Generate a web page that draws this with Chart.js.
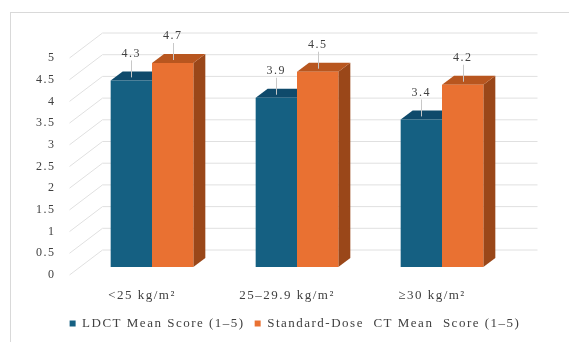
<!DOCTYPE html>
<html>
<head>
<meta charset="utf-8">
<script src="https://cdn.jsdelivr.net/npm/chart.js@4"></script>
<style>
  html, body { margin: 0; padding: 0; background: #fff; }
  #wrap { width: 569px; height: 342px; }
</style>
</head>
<body>
<div id="wrap"><canvas id="bmiChart" width="569" height="342"></canvas></div>
<script>
// BMI groups and mean image-quality scores
const categories = ['<25 kg/m\u00B2', '25\u201329.9 kg/m\u00B2', '\u226530 kg/m\u00B2'];
const ldctScores = [4.3, 3.9, 3.4];
const standardScores = [4.7, 4.5, 4.2];
const seriesNames = ['LDCT Mean Score (1\u20135)', 'Standard-Dose  CT Mean  Score (1\u20135)'];

const FONT = "'Liberation Serif', 'Times New Roman', serif";
const TEXT = '#404040';

// depth of the floor / back wall, and offset of the front plane from the bar plane
const WALL_DX = 33, WALL_DY = 25;
const FRONT_DX = -10, FRONT_DY = 8;
// depth of each bar
const BAR_DX = 12, BAR_DY = 9;

const sideColors = ['#0c3f5c', '#9a4719'];
const topColors = ['#0f4a6b', '#b8561f'];

// wide tracking on all chart text
const spacingPlugin = {
    id: 'spacing',
    beforeInit(chart) { chart.ctx.letterSpacing = '1.5px'; },
    beforeUpdate(chart) { chart.ctx.letterSpacing = '1.5px'; }
};

// back wall, left wall and outer frame
const wallPlugin = {
    id: 'wall',
    beforeDraw(chart) {
        const ctx = chart.ctx;
        const area = chart.chartArea;
        const y = chart.scales.y;
        ctx.save();
        ctx.strokeStyle = '#d9d9d9';
        ctx.lineWidth = 1;
        ctx.strokeRect(10.5, 12.5, 700, 500);
        ctx.strokeStyle = '#e0e0e0';
        const fx = area.left + FRONT_DX;
        const fxr = area.right + FRONT_DX;
        y.ticks.forEach(t => {
            const fy = y.getPixelForValue(t.value) + FRONT_DY;
            ctx.beginPath();
            ctx.moveTo(fx, fy);
            ctx.lineTo(fx + WALL_DX, fy - WALL_DY);
            ctx.lineTo(fxr + WALL_DX, fy - WALL_DY);
            ctx.stroke();
        });
        ctx.restore();
    }
};

// side and top faces of the bars, drawn under the front faces; value labels on top
const barDepthPlugin = {
    id: 'barDepth',
    beforeDatasetsDraw(chart) {
        const ctx = chart.ctx;
        ctx.save();
        chart.data.datasets.forEach((ds, di) => {
            chart.getDatasetMeta(di).data.forEach(bar => {
                const l = bar.x - bar.width / 2;
                const r = bar.x + bar.width / 2;
                ctx.fillStyle = sideColors[di];
                ctx.beginPath();
                ctx.moveTo(r, bar.y);
                ctx.lineTo(r + BAR_DX, bar.y - BAR_DY);
                ctx.lineTo(r + BAR_DX, bar.base - BAR_DY);
                ctx.lineTo(r, bar.base);
                ctx.closePath();
                ctx.fill();
                ctx.fillStyle = topColors[di];
                ctx.beginPath();
                ctx.moveTo(l, bar.y);
                ctx.lineTo(l + BAR_DX, bar.y - BAR_DY);
                ctx.lineTo(r + BAR_DX, bar.y - BAR_DY);
                ctx.lineTo(r, bar.y);
                ctx.closePath();
                ctx.fill();
            });
        });
        ctx.restore();
    },
    afterDatasetsDraw(chart) {
        const ctx = chart.ctx;
        ctx.save();
        ctx.font = '12px ' + FONT;
        ctx.fillStyle = TEXT;
        ctx.textAlign = 'center';
        ctx.textBaseline = 'middle';
        chart.data.datasets.forEach((ds, di) => {
            chart.getDatasetMeta(di).data.forEach((bar, i) => {
                const ly = bar.y - 27;
                ctx.strokeStyle = '#c8c8c8';
                ctx.lineWidth = 1;
                ctx.beginPath();
                ctx.moveTo(Math.round(bar.x) + 0.5, ly + 7);
                ctx.lineTo(Math.round(bar.x) + 0.5, bar.y - 3);
                ctx.stroke();
                ctx.fillText(ds.data[i].toFixed(1), bar.x, ly);
            });
        });
        ctx.restore();
    }
};

new Chart(document.getElementById('bmiChart'), {
    type: 'bar',
    data: {
        labels: categories,
        datasets: [
            { label: seriesNames[0], data: ldctScores, backgroundColor: '#156082' },
            { label: seriesNames[1], data: standardScores, backgroundColor: '#e97132' }
        ]
    },
    options: {
        responsive: false,
        animation: false,
        layout: { padding: { left: 21, right: 0, top: 50, bottom: 2 } },
        datasets: {
            bar: { categoryPercentage: 0.57, barPercentage: 1.0 }
        },
        scales: {
            x: {
                grid: { display: false, drawTicks: false },
                border: { display: false },
                ticks: {
                    color: TEXT,
                    font: { family: FONT, size: 13 },
                    padding: 21,
                    labelOffset: -10,
                    maxRotation: 0
                },
                afterFit(scale) { scale.height = 40; }
            },
            y: {
                min: 0,
                max: 5,
                grid: { display: false, drawTicks: false },
                border: { display: false },
                ticks: {
                    stepSize: 0.5,
                    color: TEXT,
                    font: { family: FONT, size: 12 },
                    padding: 24,
                    labelOffset: FRONT_DY,
                    callback: v => String(v)
                },
                afterFit(scale) { scale.width = 58.5; }
            },
            // empty right-hand axis, keeps room for the back wall
            yRight: {
                position: 'right',
                min: 0,
                max: 5,
                grid: { display: false, drawTicks: false },
                border: { display: false },
                ticks: { display: false },
                afterFit(scale) { scale.width = 54.5; }
            }
        },
        plugins: {
            legend: {
                position: 'bottom',
                labels: {
                    color: TEXT,
                    font: { family: FONT, size: 13 },
                    usePointStyle: true,
                    pointStyle: 'rect',
                    boxWidth: 6,
                    boxHeight: 6,
                    padding: 10
                }
            },
            tooltip: { enabled: false }
        }
    },
    plugins: [spacingPlugin, wallPlugin, barDepthPlugin]
});
</script>
</body>
</html>
